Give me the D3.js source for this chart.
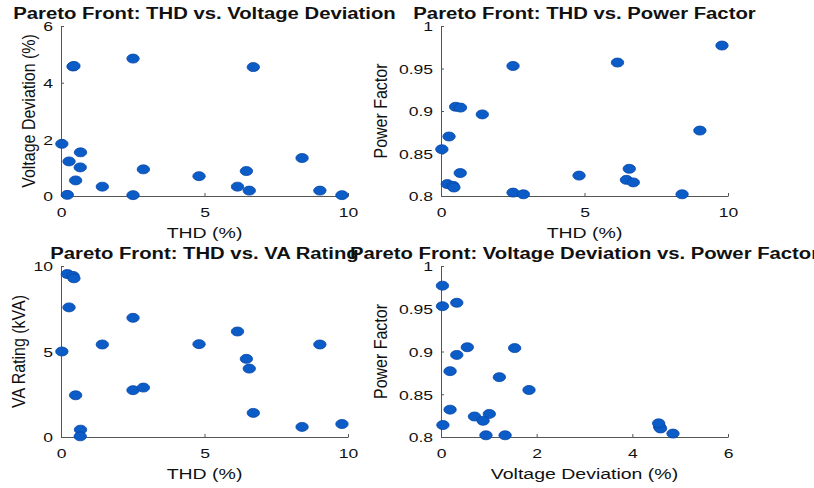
<!DOCTYPE html>
<html>
<head>
<meta charset="utf-8">
<script src="https://cdn.jsdelivr.net/npm/d3@7"></script>
<style>
  body { margin: 0; background: #fff; }
  svg { display: block; font-family: "Liberation Sans", Arial, Helvetica, sans-serif; }
  .domain { stroke: #555; }
  .tick line { stroke: #555; }
</style>
</head>
<body>
<script>
// Pareto front solutions (one entry per solution, same order in every array)
var thd         = [0.03, 0.28, 0.22, 0.42, 0.45, 0.51, 0.68, 0.67, 1.44, 2.51, 2.51, 2.87, 4.81, 6.15, 6.46, 6.56, 6.70, 8.40, 9.02, 9.79];
var voltDev     = [1.84, 1.22, 0.04, 4.57, 4.59, 0.55, 1.54, 1.01, 0.33, 4.85, 0.03, 0.94, 0.70, 0.33, 0.88, 0.19, 4.55, 1.34, 0.19, 0.03];
var powerFactor = [0.855, 0.870, 0.814, 0.812, 0.810, 0.905, 0.904, 0.827, 0.896, 0.804, 0.953, 0.802, 0.824, 0.957, 0.819, 0.832, 0.816, 0.802, 0.877, 0.977];
var vaRating    = [5.00, 7.58, 9.53, 9.42, 9.28, 2.44, 0.43, 0.04, 5.41, 2.74, 6.97, 2.89, 5.43, 6.17, 4.57, 4.00, 1.41, 0.59, 5.41, 0.76];

var thdTicks = [0, 5, 10],
    vdTicks = [0, 2, 4, 6],
    pfTicks = [0.8, 0.85, 0.9, 0.95, 1],
    vaTicks = [0, 5, 10];

var width = 814, height = 488,
    SX = 1.3; // text in the picture is stretched sideways

var panels = [
  { title: "Pareto Front: THD vs. Voltage Deviation", xs: thd, ys: voltDev, xd: [0, 10], yd: [0, 6],
    xt: thdTicks, yt: vdTicks, xl: "THD (%)", yl: "Voltage Deviation (%)", box: [61, 348, 26, 196], ylx: 35 },
  { title: "Pareto Front: THD vs. Power Factor", xs: thd, ys: powerFactor, xd: [0, 10], yd: [0.8, 1],
    xt: thdTicks, yt: pfTicks, xl: "THD (%)", yl: "Power Factor", box: [441, 728, 26, 196], ylx: 387 },
  { title: "Pareto Front: THD vs. VA Rating", xs: thd, ys: vaRating, xd: [0, 10], yd: [0, 10],
    xt: thdTicks, yt: vaTicks, xl: "THD (%)", yl: "VA Rating (kVA)", box: [61, 348, 266, 437], ylx: 25 },
  { title: "Pareto Front: Voltage Deviation vs. Power Factor", xs: voltDev, ys: powerFactor, xd: [0, 6], yd: [0.8, 1],
    xt: vdTicks, yt: pfTicks, xl: "Voltage Deviation (%)", yl: "Power Factor", box: [441, 728, 266, 437], ylx: 387 }
];

var svg = d3.select("body").append("svg")
    .attr("width", width)
    .attr("height", height);

var fmt = d => String(+d.toFixed(2));

const hText = (g, x, y, str, size, weight) => g.append("text")
    .attr("transform", "translate(" + x + "," + y + ") scale(" + SX + ",1)")
    .attr("text-anchor", "middle")
    .style("font-size", size + "px")
    .style("font-weight", weight || "normal")
    .attr("fill", "#111")
    .text(str);

panels.forEach(p => {
    var [l, r, t, b] = p.box;
    var x = d3.scaleLinear().domain(p.xd).range([l, r]);
    var y = d3.scaleLinear().domain(p.yd).range([b, t]);
    var g = svg.append("g");

    var xAxis = g.append("g")
        .attr("transform", "translate(0," + b + ")")
        .call(d3.axisBottom(x).tickValues(p.xt).tickFormat(fmt).tickSizeInner(-3).tickSizeOuter(0));
    xAxis.selectAll("text")
        .attr("y", 21).attr("dy", null)
        .attr("transform", "scale(" + SX + ",1)")
        .style("font-size", "13.5px").attr("fill", "#111");

    var yAxis = g.append("g")
        .attr("transform", "translate(" + l + ",0)")
        .call(d3.axisLeft(y).tickValues(p.yt).tickFormat(fmt).tickSizeInner(-3).tickSizeOuter(0));
    yAxis.selectAll("text")
        .attr("x", -8 / SX).attr("dy", "0.36em")
        .attr("transform", "scale(" + SX + ",1)")
        .style("font-size", "13.5px").attr("fill", "#111");
    g.selectAll(".domain").attr("stroke", "#555");

    hText(g, (l + r) / 2, b + 42, p.xl, 15);

    g.append("text")
        .attr("transform", "translate(" + p.ylx + "," + (t + b) / 2 + ") rotate(-90) scale(1," + 1.2 + ")")
        .attr("text-anchor", "middle")
        .style("font-size", "16px")
        .attr("fill", "#111")
        .text(p.yl);

    g.selectAll("ellipse")
        .data(p.xs.map((v, i) => [v, p.ys[i]]))
        .enter().append("ellipse")
        .attr("cx", d => x(d[0]))
        .attr("cy", d => y(d[1]))
        .attr("rx", 6.2)
        .attr("ry", 4.5)
        .attr("fill", "#0b5cc6")
        .attr("stroke", "#0846a8")
        .attr("stroke-width", 0.8);

    hText(g, (l + r) / 2, t - 7, p.title, 15.6, "bold");
});
</script>
</body>
</html>
